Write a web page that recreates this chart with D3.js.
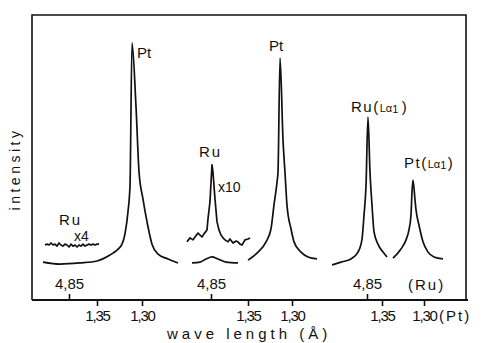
<!DOCTYPE html>
<html>
<head>
<meta charset="utf-8">
<script src="https://cdn.jsdelivr.net/npm/d3@7"></script>
<style>
  body { margin: 0; background: #fff; }
  text { font-family: "Liberation Sans", Arial, sans-serif; fill: #111; }
</style>
</head>
<body>
<script>
// spectra: [wavelength (Pt scale, A), intensity]
var ptPeak1 = [[1.410,13.3],[1.391,12.6],[1.369,13.0],[1.350,13.7],[1.3356,15.8],[1.3278,17.5],
  [1.3222,19.6],[1.3189,23.2],[1.3156,30.9],[1.3133,40.4],[1.3111,90.2],[1.3067,68.1],
  [1.3033,44.9],[1.2989,35.4],[1.2944,27.4],[1.2889,19.6],[1.2822,16.1],[1.2711,14.4],[1.2600,13.0]]
var ruX4 = [[1.4078,19.3],[1.4056,19.6],[1.4033,19.3],[1.4011,20.0],[1.3989,19.3],[1.3967,19.6],
  [1.3944,18.9],[1.3922,20.0],[1.3900,19.3],[1.3878,18.9],[1.3856,19.6],[1.3833,19.3],[1.3811,18.6],
  [1.3789,19.6],[1.3767,18.9],[1.3744,19.3],[1.3722,18.6],[1.3700,19.3],[1.3678,18.9],[1.3656,19.6],
  [1.3633,18.9],[1.3611,19.3],[1.3589,19.6],[1.3567,19.3],[1.3544,19.6],[1.3522,19.3],[1.3500,19.6],[1.3478,19.6]]
var ruBump = [[1.4136,13.0],[1.4045,13.3],[1.3977,14.4],[1.3909,15.1],[1.3841,14.4],[1.3750,13.3],[1.3614,13.0]]
var ruX10 = [[1.4193,20.4],[1.4159,21.8],[1.4125,21.1],[1.4102,22.1],[1.4068,23.5],[1.4045,22.8],
  [1.4023,22.1],[1.4000,23.2],[1.3966,24.6],[1.3955,28.4],[1.3932,34.4],[1.3920,41.4],[1.3909,47.4],
  [1.3898,44.9],[1.3875,35.4],[1.3852,27.4],[1.3830,24.6],[1.3807,22.8],[1.3784,21.8],[1.3761,21.1],
  [1.3727,20.4],[1.3705,21.4],[1.3670,20.0],[1.3636,20.7],[1.3614,20.4],[1.3591,19.6],[1.3568,19.3],
  [1.3534,21.1],[1.3500,21.4],[1.3477,21.8]]
var ptPeak2 = [[1.3500,14.0],[1.3386,16.8],[1.3295,20.4],[1.3239,24.9],[1.3205,33.3],[1.3170,41.4],
  [1.3159,44.9],[1.3136,84.9],[1.3102,56.1],[1.3080,44.9],[1.3057,33.3],[1.3011,24.9],[1.2977,20.4],
  [1.2898,16.8],[1.2818,15.1],[1.2716,14.4]]
var ruLa1 = [[1.4095,12.3],[1.3988,13.3],[1.3869,14.4],[1.3786,16.8],[1.3738,21.4],[1.3714,29.8],
  [1.3690,40.4],[1.3667,64.2],[1.3643,44.9],[1.3619,33.3],[1.3595,23.9],[1.3548,19.6],[1.3488,16.8],[1.3440,15.1]]
var ptLa1 = [[1.3369,14.7],[1.3274,17.9],[1.3214,21.1],[1.3179,24.6],[1.3155,29.8],[1.3143,37.9],
  [1.3131,42.1],[1.3107,35.1],[1.3095,31.6],[1.3060,26.3],[1.3012,20.4],[1.2952,16.8],[1.2881,15.1],[1.2774,14.4]]

var ptTicks = [1.35, 1.30]
var ruTicks = [4.85]

var w = 482, h = 343
var frame = {left: 32, right: 466, top: 15, bottom: 300}

var svg = d3.select("body").append("svg")
  .attr("width", w).attr("height", h)

var y = d3.scaleLinear().domain([0, 100]).range([frame.bottom, frame.top])

// three panels, each with its own Pt wavelength scale and Ru 4.85 mark
var panels = [
  {pt: [97, 142], ru: 69, curves: [[ptPeak1, true], [ruX4, false]]},
  {pt: [248, 292], ru: 211, curves: [[ruBump, true], [ruX10, false], [ptPeak2, true]]},
  {pt: [382, 424], ru: 367, curves: [[ruLa1, true], [ptLa1, true]]}
]

var fmt = function(d) { return d.toFixed(2).replace(".", ",") }

panels.forEach(function(p) {
  var x = d3.scaleLinear().domain([1.35, 1.30]).range(p.pt)
  var xr = d3.scaleLinear().domain([4.90, 4.80]).range([p.ru - 40, p.ru + 40])

  p.curves.forEach(function(c) {
    var line = d3.line()
      .x(function(d) { return x(d[0]) })
      .y(function(d) { return y(d[1]) })
      .curve(c[1] ? d3.curveMonotoneX : d3.curveLinear)
    svg.append("path")
      .datum(c[0])
      .attr("d", line)
      .attr("fill", "none")
      .attr("stroke", "#111")
      .attr("stroke-width", 1.7)
      .attr("stroke-linejoin", "round")
  })

  var gPt = svg.append("g")
    .attr("transform", "translate(0," + frame.bottom + ")")
    .call(d3.axisBottom(x).tickValues(ptTicks).tickFormat(fmt).tickSize(6).tickPadding(4))
  var gRu = svg.append("g")
    .attr("transform", "translate(0," + frame.bottom + ")")
    .call(d3.axisTop(xr).tickValues(ruTicks).tickFormat(fmt).tickSize(6).tickPadding(5))
  ;[gPt, gRu].forEach(function(g, i) {
    g.select(".domain").remove()
    g.selectAll("line").attr("stroke", "#111").attr("stroke-width", 1.6)
    g.selectAll("text").style("font-size", "15px").attr("letter-spacing", i == 0 ? -1.2 : 0)
      .style("font-family", "'Liberation Sans', Arial, sans-serif").attr("fill", "#111")
  })
})

// frame
svg.append("path")
  .attr("d", "M" + frame.left + "," + frame.bottom + "V" + frame.top + "H" + frame.right +
    "V" + frame.bottom)
  .attr("fill", "none").attr("stroke", "#111").attr("stroke-width", 1.6)
svg.append("line")
  .attr("x1", frame.left).attr("x2", frame.right + 2)
  .attr("y1", frame.bottom).attr("y2", frame.bottom)
  .attr("stroke", "#111").attr("stroke-width", 2)

// labels
function label(x0, y0, t, size, sp) {
  return svg.append("text").attr("x", x0).attr("y", y0)
    .style("font-size", size + "px").attr("letter-spacing", sp).text(t)
}
label(137, 58, "Pt", 15, 0)
label(59, 225, "Ru", 15, 2)
label(74, 241, "x4", 14, 0)
label(199, 157, "Ru", 15, 2)
label(218, 192, "x10", 14, 0)
label(269, 51, "Pt", 15, 0)

var t1 = label(351, 112, "Ru(", 15, 1.5)
t1.append("tspan").style("font-size", "11px").attr("letter-spacing", 0).text("L\u03b1")
t1.append("tspan").style("font-size", "11px").attr("dy", 1).text("1")
t1.append("tspan").attr("dy", -1).attr("dx", 2).text(")")
var t2 = label(404, 168, "Pt(", 15, 1.5)
t2.append("tspan").style("font-size", "11px").attr("letter-spacing", 0).text("L\u03b1")
t2.append("tspan").style("font-size", "11px").attr("dy", 1).text("1")
t2.append("tspan").attr("dy", -1).text(")")

label(408, 290, "(Ru)", 15, 2)
label(439, 321, "(Pt)", 15, 2)
label(167, 339, "wave length (\u00c5)", 15, 4)

svg.append("text")
  .attr("transform", "translate(20,169) rotate(-90)")
  .attr("text-anchor", "middle")
  .style("font-size", "14px").attr("letter-spacing", 3.5)
  .text("intensity")
</script>
</body>
</html>
